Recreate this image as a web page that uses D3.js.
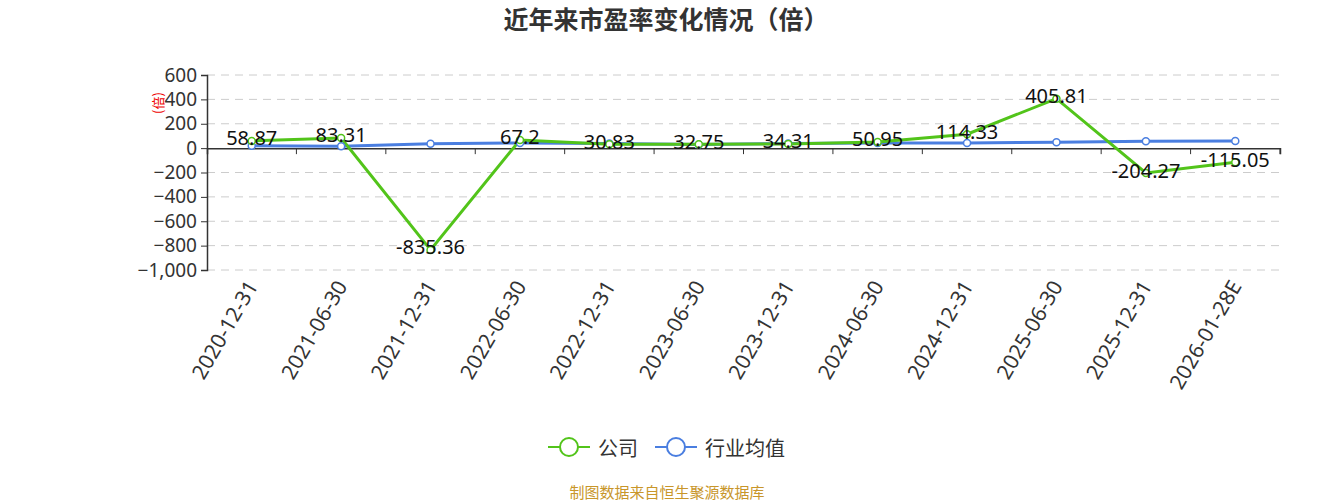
<!DOCTYPE html>
<html><head><meta charset="utf-8">
<script src="https://cdn.jsdelivr.net/npm/d3@7"></script>
<style>body{margin:0;background:#fff;font-family:"Noto Sans CJK SC","Noto Sans",sans-serif;}</style>
</head><body><svg id="c" width="1333" height="500"></svg>
<script>
const categories = ["2020-12-31","2021-06-30","2021-12-31","2022-06-30","2022-12-31","2023-06-30","2023-12-31","2024-06-30","2024-12-31","2025-06-30","2025-12-31","2026-01-28E"];
const companyValues = [58.87,83.31,-835.36,67.2,30.83,32.75,34.31,50.95,114.33,405.81,-204.27,-115.05];
const industryValues = [20,15,35,42,37,30,37,42,42,48,56,59];
const yTicks = [600,400,200,0,-200,-400,-600,-800,-1000];
const seriesNames = ["公司","行业均值"];
const colors = ["#52c41a","#4a7ee0"];

(function(){
const svg = d3.select("#c");
const mL = 207, mR = 1280, mT = 75, mB = 270;
const x = d3.scaleBand().domain(categories).range([mL, mR]);
const y = d3.scaleLinear().domain([-1000, 600]).range([mB, mT]);
const latin = "'Noto Sans','Open Sans',sans-serif";

svg.append("text").attr("x", 666).attr("y", 29).attr("text-anchor","middle")
  .attr("font-size", 25).attr("font-weight","bold").attr("fill","#333").text("近年来市盈率变化情况（倍）");

// grid
svg.append("g").selectAll("line").data(yTicks.filter(d=>d!==0)).join("line")
  .attr("x1", mL).attr("x2", mR).attr("y1", d=>y(d)).attr("y2", d=>y(d))
  .attr("stroke","#ccc").attr("stroke-dasharray","8,6").attr("stroke-width",1);

// y axis
const ya = svg.append("g").attr("transform",`translate(${mL},0)`)
  .call(d3.axisLeft(y).tickValues(yTicks).tickFormat(d3.format(",")).tickSize(6).tickPadding(4));
ya.select(".domain").attr("stroke","#333").attr("stroke-width",1.5);
ya.selectAll(".tick line").attr("stroke","#333");
ya.selectAll("text").attr("font-size",19).attr("fill","#333").attr("font-family",latin);

// y axis name
svg.append("text").attr("transform",`translate(${157},${103}) rotate(-90)`).attr("text-anchor","middle")
  .attr("dominant-baseline","central").attr("font-size",13).attr("fill","#e00").text("(倍)");

// x axis at 0
const xa = svg.append("g").attr("transform",`translate(0,${y(0)})`)
  .call(d3.axisBottom(x).tickSize(6).tickFormat(""));
xa.select(".domain").attr("stroke","#333").attr("stroke-width",1.5);
xa.selectAll(".tick line").attr("stroke","#333").attr("transform",`translate(${x.bandwidth()/2},0)`);

// x labels
svg.append("g").selectAll("text").data(categories).join("text")
  .attr("transform", d=>`translate(${x(d)+x.bandwidth()/2},${282}) rotate(-60)`)
  .attr("text-anchor","end").attr("dominant-baseline","central")
  .attr("font-size",21).attr("fill","#333").attr("font-family",latin).text(d=>d);

const cx = d => x(d)+x.bandwidth()/2;
const line = d3.line().x((d,i)=>cx(categories[i])).y(d=>y(d));

[industryValues, companyValues].forEach((vals, k) => {
  const col = k===0 ? colors[1] : colors[0];
  svg.append("path").attr("d", line(vals)).attr("fill","none").attr("stroke",col).attr("stroke-width",3);
});
[industryValues, companyValues].forEach((vals, k) => {
  const col = k===0 ? colors[1] : colors[0];
  svg.append("g").selectAll("circle").data(vals).join("circle")
    .attr("cx",(d,i)=>cx(categories[i])).attr("cy",d=>y(d)).attr("r",3.5)
    .attr("fill","#fff").attr("stroke",col).attr("stroke-width",1.5);
});

// labels
svg.append("g").selectAll("text").data(companyValues).join("text")
  .attr("x",(d,i)=>cx(categories[i])).attr("y",d=>y(d)-3)
  .attr("text-anchor","middle").attr("dominant-baseline","central")
  .attr("font-size",20).attr("fill","#111").attr("font-family",latin).text(d=>d);

// legend
const lg = svg.append("g");
const items = [{n:seriesNames[0],c:colors[0],x:548},{n:seriesNames[1],c:colors[1],x:655}];
items.forEach(it=>{
  lg.append("line").attr("x1",it.x).attr("x2",it.x+42).attr("y1",447).attr("y2",447).attr("stroke",it.c).attr("stroke-width",2);
  lg.append("circle").attr("cx",it.x+21).attr("cy",447).attr("r",9).attr("fill","#fff").attr("stroke",it.c).attr("stroke-width",2);
  lg.append("text").attr("x",it.x+50).attr("y",447).attr("dominant-baseline","central").attr("font-size",20).attr("fill","#333").text(it.n);
});

svg.append("text").attr("x",667).attr("y",491).attr("text-anchor","middle").attr("dominant-baseline","central")
  .attr("font-size",15).attr("fill","#c8962a").text("制图数据来自恒生聚源数据库");
})();
</script></body></html>
